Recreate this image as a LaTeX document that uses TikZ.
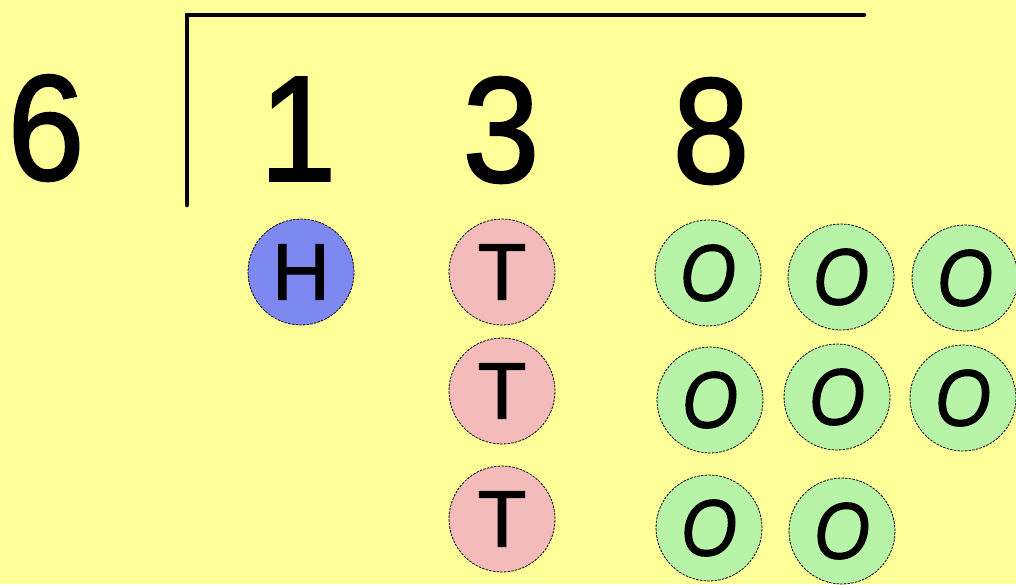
\documentclass[tikz,border=0pt]{standalone}
\usepackage{fontspec}
\setmainfont{Liberation Sans}
\newfontfamily\digitfont[FakeBold=1.6]{Liberation Sans}
\newfontfamily\letterfont[FakeBold=1.4]{Liberation Sans}
\definecolor{bgyellow}{HTML}{FFFF99}
\definecolor{hblue}{HTML}{7D88F0}
\definecolor{tpink}{HTML}{F4BBBB}
\definecolor{ogreen}{HTML}{B8F4A8}
\tikzset{
  digit/.style={inner sep=0pt, xscale=0.92, font=\digitfont\fontsize{150}{150}\selectfont},
  counter/.style={circle, minimum size=106pt, inner sep=0pt, draw=black,
    line width=0.8pt, dash pattern=on 2.5pt off 1.2pt,
    font=\letterfont\fontsize{80}{80}\selectfont},
  hund/.style={counter, fill=hblue},
  tens/.style={counter, fill=tpink},
  ones/.style={counter, fill=ogreen},
  otext/.style={inner sep=0pt, xscale=0.9, font=\letterfont\fontsize{80}{80}\selectfont\itshape},
  bracket/.style={line width=4.5pt, line cap=round}
}
\begin{document}
\begin{tikzpicture}[x=1pt,y=-1pt]
\fill[bgyellow] (0,0) rectangle (1016,584);
\useasboundingbox (0,0) rectangle (1016,584);
\coordinate (bb) at (187,205);
\coordinate (bt) at (187,15);
\coordinate (br) at (864,15);
\draw[bracket] (bb) -- (bt) -- (br);
\node[digit] (d6) at (46,128) {6};
\node[digit] (d1) at (298,129) {1};
\node[digit] (d3) at (501,130) {3};
\node[digit] (d8) at (711,131) {8};
\node[hund] (h1) at (301,272) {H};
\node[tens] (t1) at (502,272) {T};
\node[tens] (t2) at (502,391) {T};
\node[tens] (t3) at (502,519) {T};
\foreach \n/\x/\y in {o1/708/273, o2/841/277, o3/965/278, o4/710/400, o5/837/397, o6/963/398, o7/709/528, o8/842/531}{
  \node[ones] (\n) at (\x,\y) {};
  \node[otext] at (\n) {O};
}
\end{tikzpicture}
\end{document}
